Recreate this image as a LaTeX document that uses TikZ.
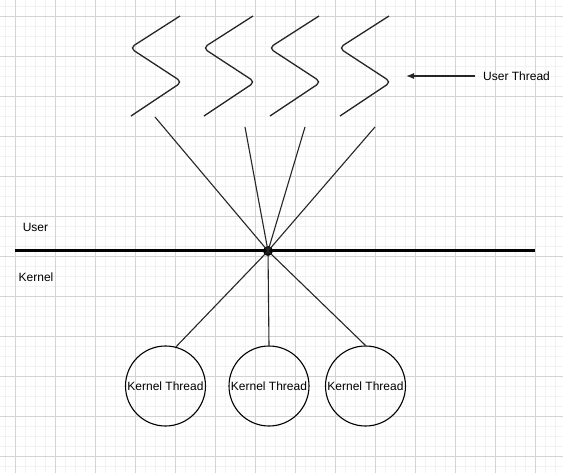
\documentclass[tikz,border=0pt]{standalone}
\usepackage{fontspec}
\setmainfont{Liberation Sans}
\usetikzlibrary{arrows.meta}
\begin{document}
\begin{tikzpicture}[x=1pt,y=-1pt,
  minorgrid/.style={draw=black!5,line width=0.6pt},
  majorgrid/.style={draw=black!17,line width=0.7pt},
  thinline/.style={draw=black!85,line width=1.1pt},
  zigzag/.style={draw=black!85,line width=1.3pt,rounded corners=5pt},
  label/.style={font=\fontsize{12pt}{14pt}\selectfont,inner sep=0pt},
  kthread/.style={circle,draw=black,line width=1.1pt,minimum size=80pt,inner sep=0pt,
    font=\fontsize{12pt}{14pt}\selectfont}]
  % canvas and grid
  \fill[white] (0,0) rectangle (563,473);
  \useasboundingbox (0,0) rectangle (563,473);
  \foreach \x in {5,15,...,555} \draw[minorgrid] (\x,0) -- (\x,473);
  \foreach \y in {6,16,...,466} \draw[minorgrid] (0,\y) -- (563,\y);
  \foreach \x in {15,55,...,555} \draw[majorgrid] (\x,0) -- (\x,473);
  \foreach \y in {16,56,...,456} \draw[majorgrid] (0,\y) -- (563,\y);

  % user threads drawn as zigzags
  \foreach \x in {130,203,269,339}
    \draw[zigzag] (\x+50,16) -- (\x,48) -- (\x+52,82) -- (\x+1,116);

  % pointer to the user threads
  \node[label,anchor=west] (ut) at (483,76) {User Thread};
  \coordinate (utip) at (406,76);
  \draw[thinline,-{Latex[length=8pt,width=6pt]}] (ut.west) ++(-8,0) -- (utip);

  % user / kernel boundary
  \draw[black,line width=3pt] (15,251) -- (535,251);
  \node[label] (user) at (35.5,227) {User};
  \node[label] (kernel) at (36,277) {Kernel};

  % multiplexing point
  \node[circle,fill=black,inner sep=0pt,minimum size=10pt] (hub) at (268,251) {};

  % lines from user threads to the hub
  \coordinate (a1) at (155,117);
  \coordinate (a2) at (245,127);
  \coordinate (a3) at (305,127);
  \coordinate (a4) at (375,127);
  \foreach \a in {a1,a2,a3,a4} \draw[thinline] (\a) -- (hub.center);

  % kernel threads
  \node[kthread] (k1) at (165.5,386) {Kernel Thread};
  \node[kthread] (k2) at (269,386) {Kernel Thread};
  \node[kthread] (k3) at (365.5,386) {Kernel Thread};
  \draw[thinline] (hub.center) -- (k1.75);
  \draw[thinline] (hub.center) -- (k2.90);
  \draw[thinline] (hub.center) -- (k3.90);
\end{tikzpicture}
\end{document}
